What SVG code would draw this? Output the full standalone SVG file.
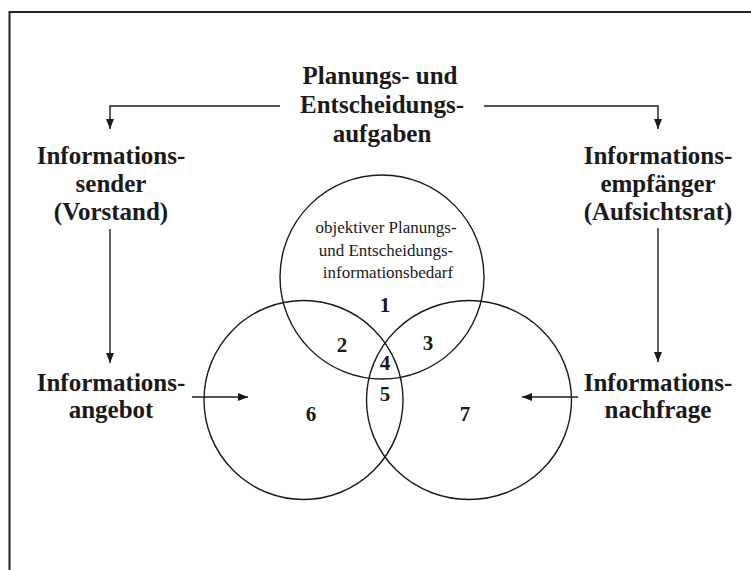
<svg xmlns="http://www.w3.org/2000/svg" width="751" height="570" viewBox="0 0 751 570">
<defs>
<style>
.lbl{font-family:"Liberation Serif","Times New Roman",serif;font-weight:bold;font-size:25px;fill:#1a1a1a;text-anchor:middle}
.num{font-family:"Liberation Serif","Times New Roman",serif;font-weight:bold;font-size:21px;fill:#1a1a1a;text-anchor:middle}
.small{font-family:"Liberation Serif","Times New Roman",serif;font-size:17px;fill:#1a1a1a;text-anchor:middle}
.ln{fill:none;stroke:#1a1a1a;stroke-width:1.4}
.circ{fill:none;stroke:#1a1a1a;stroke-width:1.4}
</style>
<marker id="ah" viewBox="0 0 10 8" refX="10" refY="4" markerWidth="10" markerHeight="8" markerUnits="userSpaceOnUse" orient="auto">
<path d="M0,0 L10,4 L0,8 Z" fill="#1a1a1a"/>
</marker>
</defs>
<rect width="751" height="570" fill="#fff"/>
<path d="M9.5,570 V12 H751" fill="none" stroke="#222" stroke-width="2"/>

<g id="aufgaben">
<text class="lbl" x="380" y="84">Planungs- und</text>
<text class="lbl" x="382" y="113">Entscheidungs-</text>
<text class="lbl" x="382" y="142">aufgaben</text>
</g>
<g id="sender">
<text class="lbl" x="111" y="164">Informations-</text>
<text class="lbl" x="111" y="192">sender</text>
<text class="lbl" x="111" y="220">(Vorstand)</text>
</g>
<g id="empfaenger">
<text class="lbl" x="658" y="164">Informations-</text>
<text class="lbl" x="658" y="192">empfänger</text>
<text class="lbl" x="658" y="220">(Aufsichtsrat)</text>
</g>
<g id="angebot">
<text class="lbl" x="111" y="391">Informations-</text>
<text class="lbl" x="111" y="418">angebot</text>
</g>
<g id="nachfrage">
<text class="lbl" x="658" y="391">Informations-</text>
<text class="lbl" x="658" y="418">nachfrage</text>
</g>

<g id="venn">
<circle class="circ" cx="382" cy="277" r="102"/>
<circle class="circ" cx="303.5" cy="400" r="99.5"/>
<ellipse class="circ" cx="469" cy="400" rx="102.5" ry="99.5"/>
<text class="small" x="386" y="233">objektiver Planungs-</text>
<text class="small" x="386" y="256">und Entscheidungs-</text>
<text class="small" x="388" y="278">informationsbedarf</text>
<text class="num" x="385" y="312">1</text>
<text class="num" x="342" y="352">2</text>
<text class="num" x="428" y="350">3</text>
<text class="num" x="385" y="370">4</text>
<text class="num" x="385" y="401">5</text>
<text class="num" x="311" y="421">6</text>
<text class="num" x="465" y="421">7</text>
</g>

<g id="connectors">
<path class="ln" d="M280,106 H110 V129" marker-end="url(#ah)"/>
<path class="ln" d="M484,106 H658 V129" marker-end="url(#ah)"/>
<path class="ln" d="M110,229 V363" marker-end="url(#ah)"/>
<path class="ln" d="M658,228 V362" marker-end="url(#ah)"/>
<path class="ln" d="M192,397 H248" marker-end="url(#ah)"/>
<path class="ln" d="M578,397 H522" marker-end="url(#ah)"/>
</g>
</svg>
